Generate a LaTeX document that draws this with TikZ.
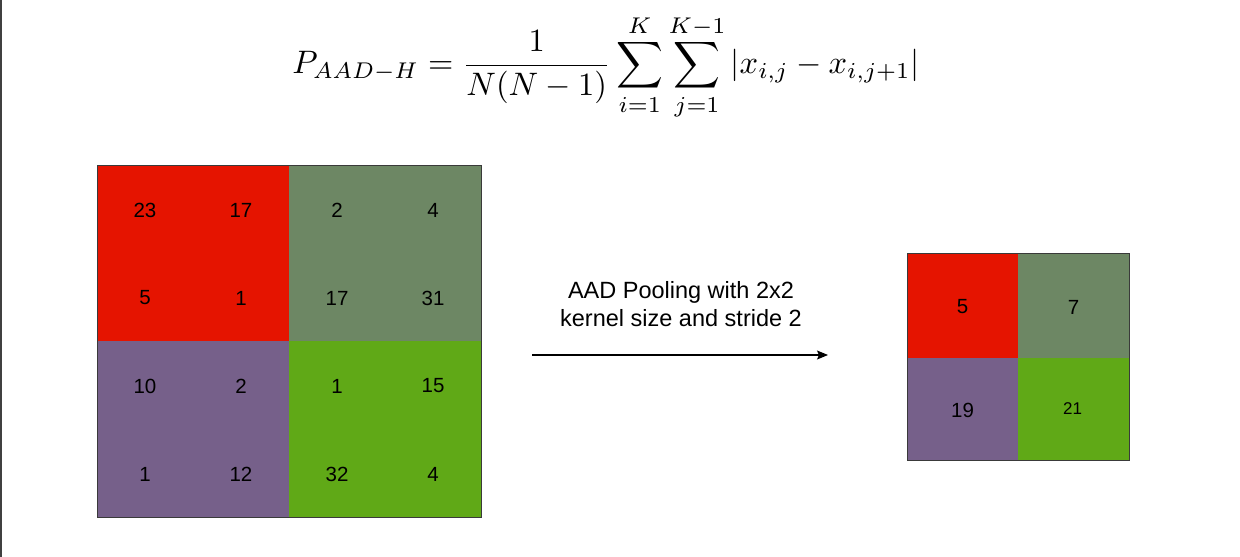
\documentclass[tikz,border=0pt]{standalone}
\usepackage[no-math]{fontspec}
\setmainfont{Liberation Sans}
\usetikzlibrary{arrows.meta}
\definecolor{cred}{HTML}{E51400}
\definecolor{cgray}{HTML}{6D8764}
\definecolor{cpurple}{HTML}{76608A}
\definecolor{cgreen}{HTML}{60A917}
\definecolor{cborder}{HTML}{3A3A3A}
\tikzset{
  quad/.style={draw=none, inner sep=0pt, outer sep=0pt},
  num/.style={font=\fontsize{20.5}{24}\selectfont, inner sep=0pt, text=black},
  numsm/.style={font=\fontsize{17}{20}\selectfont, inner sep=0pt, text=black},
  outer/.style={draw=cborder, line width=1pt},
  lbl/.style={font=\fontsize{23.5}{28}\selectfont, align=center, inner sep=0pt},
}
\begin{document}
\begin{tikzpicture}[x=1pt,y=-1pt]
\useasboundingbox (0,0) rectangle (1240,557);
\fill[white] (0,0) rectangle (1240,557);
\draw[line width=1.6pt, color=black!75] (0.8,0) -- (0.8,557);

% formula
\node[scale=3.25, inner sep=0pt] (formula) at (606,67)
  {$\displaystyle P_{AAD-H} = \frac{1}{N(N-1)}\sum_{i=1}^{K}\sum_{j=1}^{K-1}|x_{i,j}-x_{i,j+1}|$};

% left grid quadrants
\node[quad, fill=cred, minimum width=192pt, minimum height=176pt, anchor=north west] (q11) at (97,165) {};
\node[quad, fill=cgray, minimum width=192pt, minimum height=176pt, anchor=north west] (q12) at (289,165) {};
\node[quad, fill=cpurple, minimum width=192pt, minimum height=176pt, anchor=north west] (q21) at (97,341) {};
\node[quad, fill=cgreen, minimum width=192pt, minimum height=176pt, anchor=north west] (q22) at (289,341) {};
\draw[outer] (97,165) rectangle (481,517);

\node[num] (a11) at (145,210) {23};
\node[num] (a12) at (241,210) {17};
\node[num] (a13) at (337,210) {2};
\node[num] (a14) at (433,210) {4};
\node[num] (a21) at (145,298) {5};
\node[num] (a22) at (241,298) {1};
\node[num] (a23) at (337,298) {17};
\node[num] (a24) at (433,298) {31};
\node[num] (a31) at (145,386) {10};
\node[num] (a32) at (241,386) {2};
\node[num] (a33) at (337,386) {1};
\node[num] (a34) at (433,386) {15};
\node[num] (a41) at (145,474) {1};
\node[num] (a42) at (241,474) {12};
\node[num] (a43) at (337,474) {32};
\node[num] (a44) at (433,474) {4};

% label and arrow
\node[lbl] (label) at (681,304) {AAD Pooling with 2x2\\kernel size and stride 2};
\coordinate (arrS) at (532,355);
\coordinate (arrE) at (828,355);
\draw[line width=1.1pt, -{Stealth[length=11pt,width=9pt,inset=2pt]}] (arrS) -- (arrE);

% right grid
\node[quad, fill=cred, minimum width=111pt, minimum height=105pt, anchor=north west] (r11) at (907,253) {};
\node[quad, fill=cgray, minimum width=111pt, minimum height=105pt, anchor=north west] (r12) at (1018,253) {};
\node[quad, fill=cpurple, minimum width=111pt, minimum height=102pt, anchor=north west] (r21) at (907,358) {};
\node[quad, fill=cgreen, minimum width=111pt, minimum height=102pt, anchor=north west] (r22) at (1018,358) {};
\draw[outer] (907,253) rectangle (1129,460);

\node[num] (b11) at (962.5,307) {5};
\node[num] (b12) at (1073.5,307) {7};
\node[num] (b21) at (962.5,410) {19};
\node[numsm] (b22) at (1072.5,409) {21};
\end{tikzpicture}
\end{document}
